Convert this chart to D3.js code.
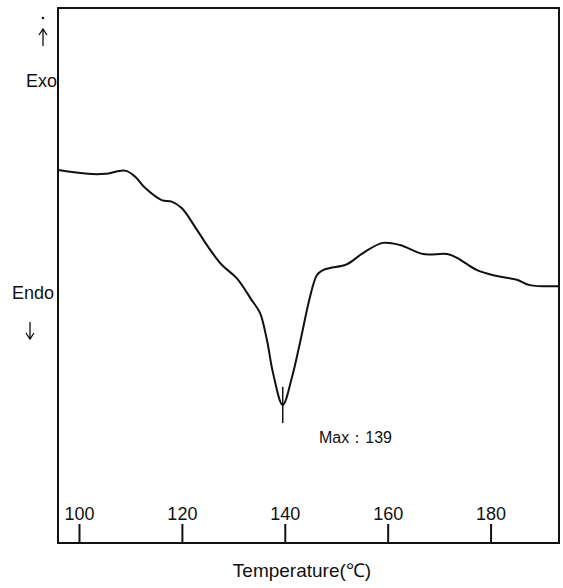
<!DOCTYPE html>
<meta charset="utf-8">
<script src="https://d3js.org/d3.v7.min.js"></script>
<style>
  body { margin: 0; background: #fff; }
  text { font-family: "Liberation Sans", Arial, sans-serif; fill: #111; }
</style>
<body>
<div id="my_dataviz"></div>
<script>
// DSC trace (heat flow in arbitrary units)
var temps = [95.98, 101.75, 105.05, 108.94, 110.88, 112.83, 116.07, 118.02, 119.96, 122.55,
  125.07, 127.74, 130.65, 133.57, 135.18, 136.54, 137.71, 139.6, 141.4, 142.95,
  144.9, 146.26, 147.42, 148.78, 152.09, 155.2, 159.09, 162.39, 166.86, 171.53,
  173.47, 177.36, 181.24, 185.13, 187.66, 193.29];
var heatFlow = [69.7, 69.0, 69.0, 69.6, 68.5, 66.4, 64.1, 63.8, 62.6, 59.1,
  55.4, 52.0, 49.5, 45.4, 43.0, 37.9, 31.8, 25.8, 31.0, 37.4,
  46.0, 50.1, 51.0, 51.4, 52.1, 54.2, 56.1, 55.7, 54.0, 54.0,
  53.3, 51.0, 49.9, 49.2, 48.2, 48.0];
var tickValues = [100, 120, 140, 160, 180];
var peakTemp = 139.6;
var peakMark = [29.2, 22.4];
var peakLabel = "Max：139";

var width = 563, height = 588;
var box = { left: 58, right: 559, top: 8, bottom: 543 };

var svg = d3.select("#my_dataviz")
  .append("svg")
  .attr("width", width)
  .attr("height", height);

var x = d3.scaleLinear()
  .domain([95.92, 193.3])
  .range([box.left, box.right]);

var y = d3.scaleLinear()
  .domain([0, 100])
  .range([box.bottom, box.top]);

// frame
svg.append("rect")
  .attr("x", box.left)
  .attr("y", box.top)
  .attr("width", box.right - box.left)
  .attr("height", box.bottom - box.top)
  .attr("fill", "none")
  .attr("stroke", "#111")
  .attr("stroke-width", 2);

// x ticks inside the frame
var xAxis = svg.append("g")
  .attr("transform", "translate(0," + box.bottom + ")")
  .call(d3.axisTop(x).tickValues(tickValues).tickSize(19).tickPadding(4).tickFormat(d3.format("d")));
xAxis.select(".domain").remove();
xAxis.selectAll("line").attr("stroke", "#111").attr("stroke-width", 2);
xAxis.selectAll("text")
  .attr("font-size", "18px")
  .attr("font-family", "Liberation Sans, Arial, sans-serif")
  .attr("fill", "#111");

svg.append("text")
  .attr("x", 302)
  .attr("y", 577)
  .attr("text-anchor", "middle")
  .attr("font-size", "19px")
  .text("Temperature(℃)");

// curve
var points = temps.map(function (t, i) { return [t, heatFlow[i]]; });
svg.append("path")
  .datum(points)
  .attr("fill", "none")
  .attr("stroke", "#111")
  .attr("stroke-width", 2)
  .attr("d", d3.line()
    .x(function (d) { return x(d[0]); })
    .y(function (d) { return y(d[1]); })
    .curve(d3.curveCatmullRom.alpha(0.5)));

// peak marker
svg.append("line")
  .attr("x1", x(peakTemp)).attr("x2", x(peakTemp))
  .attr("y1", y(peakMark[0])).attr("y2", y(peakMark[1]))
  .attr("stroke", "#111")
  .attr("stroke-width", 1.5);

svg.append("text")
  .attr("x", 319)
  .attr("y", 443)
  .attr("font-size", "16px")
  .text(peakLabel);

// Exo / Endo labels with arrows
function arrow(cx, y0, y1) {
  var dir = y1 < y0 ? 1 : -1;
  svg.append("path")
    .attr("d", "M" + cx + "," + y0 + "V" + y1 +
      "M" + (cx - 4) + "," + (y1 + dir * 6) + "L" + cx + "," + y1 + "L" + (cx + 4) + "," + (y1 + dir * 6))
    .attr("fill", "none")
    .attr("stroke", "#111")
    .attr("stroke-width", 1.3);
}
svg.append("circle").attr("cx", 43).attr("cy", 18).attr("r", 1.3).attr("fill", "#111");
arrow(43, 46, 29);
svg.append("text").attr("x", 26).attr("y", 87).attr("font-size", "18px").text("Exo");
svg.append("text").attr("x", 12).attr("y", 299).attr("font-size", "18px").text("Endo");
arrow(30, 322, 339);
</script>
</body>
